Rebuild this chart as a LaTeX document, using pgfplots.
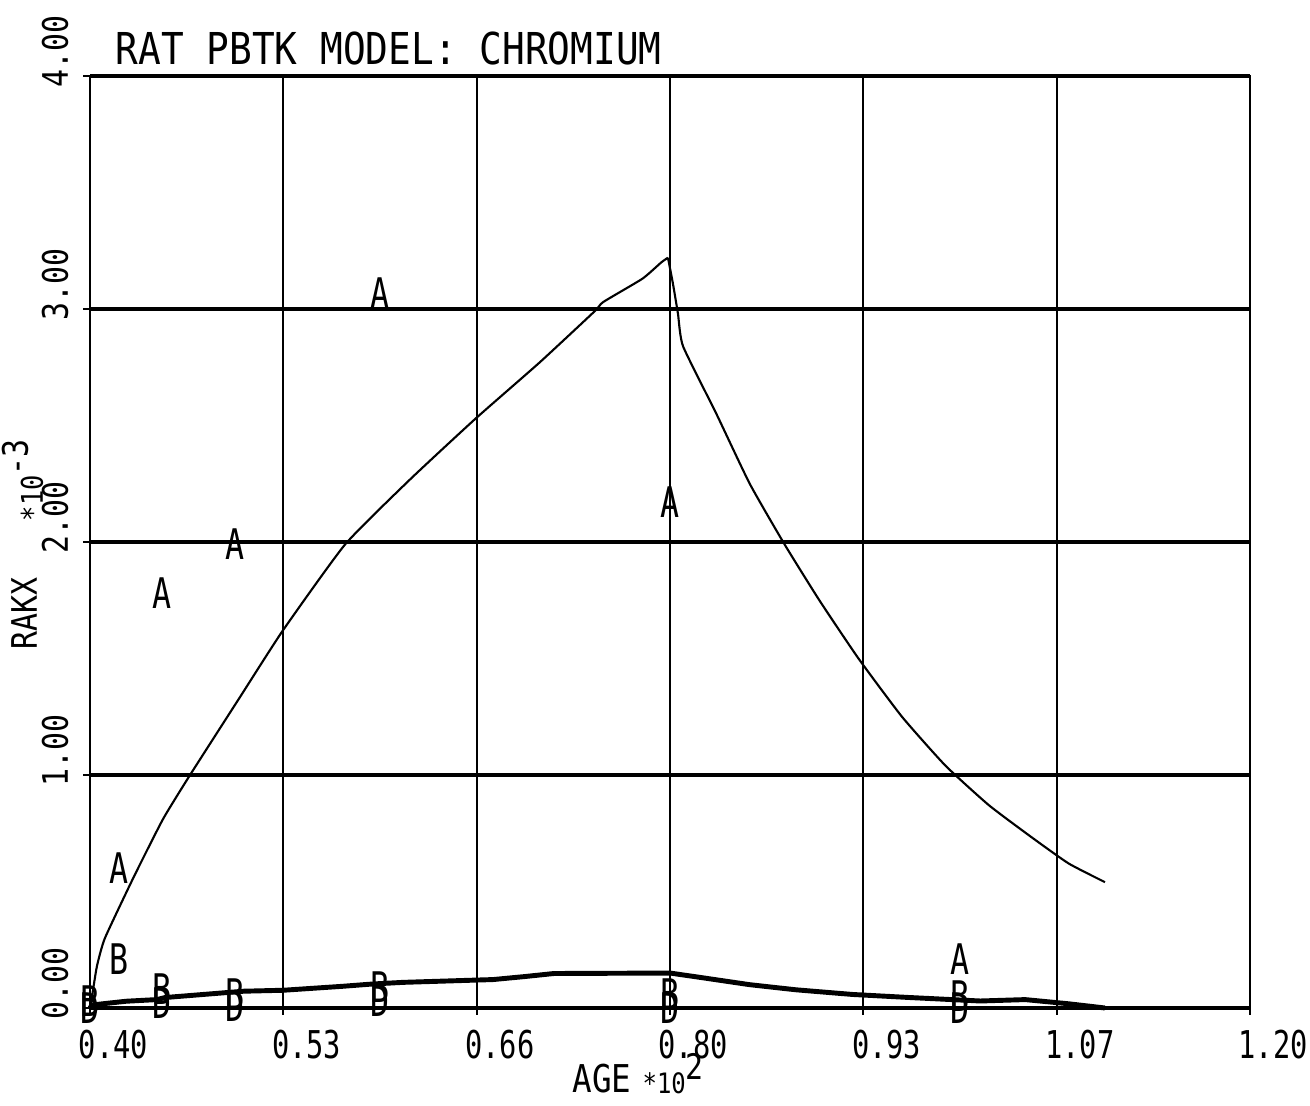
\documentclass[border=0pt]{standalone}
\usepackage{fontspec}
\setmainfont{DejaVu Sans Mono}
\newfontfamily\titlef{DejaVu Sans Mono}[FakeStretch=0.86]
\newfontfamily\tickf{DejaVu Sans Mono}[FakeStretch=0.75]
\newfontfamily\lblf{DejaVu Sans Mono}[FakeStretch=0.85]
\usepackage{pgfplots}
\pgfplotsset{compat=1.18}

\begin{document}
\begin{tikzpicture}
\path[use as bounding box] (0,0) rectangle (131mm,110.6mm);
\begin{axis}[
  at={(9mm,9.8mm)}, anchor=south west,
  width=116mm, height=93.2mm, scale only axis,
  xmin=0.40, xmax=1.20, ymin=0, ymax=4,
  xtick={0.40,0.53333,0.66667,0.80,0.93333,1.06667,1.20},
  xticklabels={0.40,0.53,0.66,0.80,0.93,1.07,1.20},
  ytick={0,1,2,3,4},
  yticklabels={0.00,1.00,2.00,3.00,4.00},
  grid=major,
  x grid style={black, line width=0.5pt},
  y grid style={black, line width=0.9pt},
  axis line style={black, line width=0.5pt},
  xtick pos=bottom, ytick pos=left,
  tick align=outside, major tick length=0.7mm,
  tick style={black, line width=0.5pt},
  xticklabel style={font=\tickf\fontsize{10.9}{12}\selectfont, anchor=north west, inner sep=0pt, xshift=-1.2mm, yshift=-1.4mm},
  yticklabel style={font=\lblf\fontsize{10}{11}\selectfont, xshift=-1.4mm, yshift=-1.2mm, rotate=90, anchor=south west, inner sep=0pt},
  clip=false,
]
% model curve (thin): rise, then fall after the peak
\addplot[black, line width=0.6pt, smooth, tension=0.3] coordinates {
  (0.400,0.00) (0.4014,0.05) (0.4048,0.18) (0.4103,0.30) (0.430,0.56)
  (0.4503,0.81) (0.469,1.00) (0.503,1.33) (0.533,1.62) (0.576,1.99)
  (0.621,2.27) (0.666,2.53) (0.710,2.77) (0.748,2.99) (0.754,3.03)
  (0.781,3.13) (0.794,3.20) (0.7986,3.22)
};
\addplot[black, line width=0.6pt, smooth, tension=0.3] coordinates {
  (0.7986,3.22) (0.802,3.11) (0.8055,2.98) (0.809,2.84) (0.832,2.55)
  (0.855,2.25) (0.879,1.99) (0.903,1.75) (0.930,1.50) (0.960,1.25)
  (0.990,1.04) (1.020,0.87) (1.050,0.73) (1.075,0.62) (1.100,0.54)
};
% second model curve (thick, near zero)
\addplot[black, line width=1.4pt] coordinates {
  (0.400,0.00) (0.4014,0.013) (0.425,0.029) (0.446,0.036) (0.452,0.045)
  (0.476,0.057) (0.506,0.072) (0.533,0.076) (0.574,0.093) (0.595,0.103)
  (0.616,0.110) (0.678,0.122) (0.700,0.135) (0.720,0.148) (0.800,0.150)
  (0.820,0.132) (0.855,0.100) (0.887,0.078) (0.926,0.058) (0.965,0.045)
  (1.014,0.030) (1.045,0.036) (1.075,0.018) (1.100,0.000)
};
% observed data as letters
\addplot[only marks, mark=text, text mark=A, text mark as node=true,
  text mark style={font=\tickf\fontsize{12}{13}\selectfont, inner sep=0pt}]
  coordinates {(0.42,0.60) (0.45,1.78) (0.50,1.99) (0.60,3.07) (0.80,2.17) (1.00,0.21)};
\addplot[only marks, mark=text, text mark=B, text mark as node=true,
  text mark style={font=\tickf\fontsize{12}{13}\selectfont, inner sep=0pt}]
  coordinates {(0.40,0.03) (0.42,0.21) (0.45,0.08) (0.50,0.06) (0.60,0.09) (0.80,0.06) (1.00,0.05)};
\addplot[only marks, mark=text, text mark=D, text mark as node=true,
  text mark style={font=\tickf\fontsize{12}{13}\selectfont, inner sep=0pt}]
  coordinates {(0.40,0.00) (0.45,0.02) (0.50,0.01) (0.60,0.03) (0.80,0.00) (1.00,0.00)};
\end{axis}
\node[anchor=base west, inner sep=0pt, font=\titlef\fontsize{12.5}{14}\selectfont] at (11.5mm,104.1mm) {RAT PBTK MODEL: CHROMIUM};
\node[anchor=base west, inner sep=0pt, font=\lblf\fontsize{10.9}{12}\selectfont] at (57.2mm,1.3mm) {AGE};
\node[anchor=base west, inner sep=0pt, font=\lblf\fontsize{8}{9}\selectfont] at (64.2mm,1.2mm) {*10\raisebox{1.4mm}{\fontsize{10}{11}\selectfont 2}};
\node[rotate=90, anchor=base west, inner sep=0pt, font=\lblf\fontsize{10}{12}\selectfont] at (3.7mm,45.6mm) {RAKX};
\node[rotate=90, anchor=base west, inner sep=0pt, font=\lblf\fontsize{8.5}{9}\selectfont] at (4.3mm,58.4mm) {*10\raisebox{1.5mm}{\fontsize{10}{11}\selectfont -3}};
\end{tikzpicture}
\end{document}
